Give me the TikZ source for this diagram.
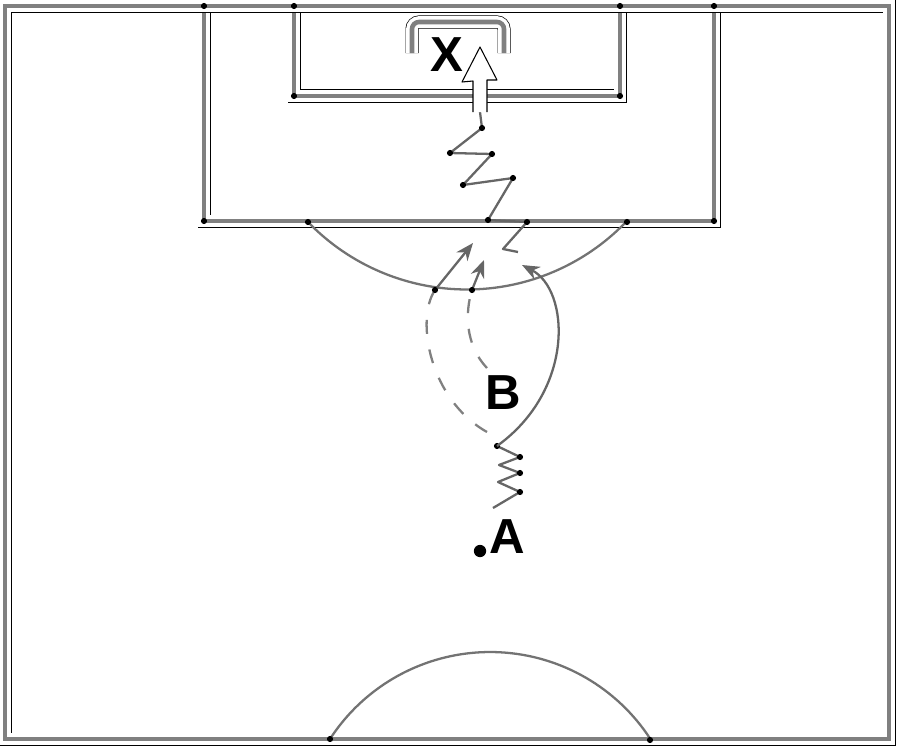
\documentclass[tikz,border=0pt]{standalone}
\usepackage{fontspec}
\setsansfont{Liberation Sans}
\usetikzlibrary{arrows.meta, positioning}

\tikzstyle{fieldline} = [draw=black!50, line width=2.6pt, preaction={draw=black, line width=7.4pt}, preaction={draw=white, line width=6.6pt}]
\tikzstyle{arcline} = [draw=black!55, line width=1.3pt]
\tikzstyle{dribble} = [draw=black!60, line width=1.3pt, line join=round]
\tikzstyle{pass} = [draw=black!50, line width=1.3pt, dash pattern=on 8pt off 9pt]
\tikzstyle{run} = [draw=black!60, line width=1.3pt, -{Stealth[length=10pt, width=8pt]}]
\tikzstyle{shot} = [draw=black, line width=0.6pt, fill=white, line join=round]
\tikzstyle{player} = [font=\sffamily\bfseries\fontsize{28}{30}\selectfont, inner sep=0pt]
\tikzstyle{ball} = [circle, fill=black, inner sep=0pt, minimum size=7pt]
\tikzstyle{joint} = [circle, fill=black, inner sep=0pt, minimum size=3.5pt]

\begin{document}
\begin{tikzpicture}[x=0.02cm, y=-0.02cm]
    \useasboundingbox (0,0) rectangle (900,747);

    % pitch
    \draw [fieldline, rounded corners=4] (412,53) -- (412,22) -- (504,22) -- (504,53);
    \draw [fieldline] (294,6) -- (294,96) -- (620,96) -- (620,6);
    \draw [fieldline] (204,6) -- (204,221) -- (714,221) -- (714,6);
    \draw [fieldline] (5,6) rectangle (889,739);
    \draw [arcline] (308,222) arc[start angle=136, end angle=44, radius=221];
    \draw [arcline] (330,739) arc[start angle=213, end angle=327, radius=191];
    \foreach \p in {(204,6),(294,6),(620,6),(714,6),(204,221),(714,221),(294,96),(620,96),(308,222),(627,222),(330,739),(650,740)}
        \node [joint] at \p {};

    % players
    \node (X) [player] at (447,55) {X};
    \node (B) [player] at (503,393) {B};
    \node (A) [player] at (507,537) {A};
    \node (ballA) [ball] at (480,551) {};

    % A dribbles, then runs round
    \coordinate (a0) at (493,508);
    \coordinate (a1) at (520,492);
    \coordinate (a2) at (498,482);
    \coordinate (a3) at (520,473);
    \coordinate (a4) at (499,465);
    \coordinate (a5) at (520,457);
    \coordinate (a6) at (497,446);
    \draw [dribble] (a0) -- (a1) -- (a2) -- (a3) -- (a4) -- (a5) -- (a6);
    \foreach \c in {a1,a3,a5,a6}
        \node [joint] at (\c) {};

    \coordinate (a7) at (522,265);
    \draw [run] (a6) .. controls (575,390) and (570,290) .. (a7);

    % passes
    \coordinate (p0) at (487,432);
    \coordinate (p1) at (435,290);
    \draw [pass] (p0) .. controls (430,400) and (415,320) .. (p1);
    \coordinate (b0) at (487,368);
    \coordinate (b1) at (472,290);
    \draw [pass] (b0) .. controls (465,345) and (465,312) .. (b1);

    % short runs on the arc
    \coordinate (p2) at (473,243);
    \draw [run] (p1) -- (p2);
    \coordinate (b2) at (484,260);
    \draw [run] (b1) -- (b2);
    \node [joint] at (p1) {};
    \node [joint] at (b1) {};

    % dribble to goal and shot
    \coordinate (z0) at (518,252);
    \coordinate (z1) at (503,249);
    \coordinate (z2) at (527,222);
    \coordinate (z3) at (488,220);
    \coordinate (z4) at (513,178);
    \coordinate (z5) at (463,185);
    \coordinate (z6) at (492,154);
    \coordinate (z7) at (450,153);
    \coordinate (z8) at (482,128);
    \coordinate (z9) at (480,112);
    \draw [dribble] (z0) -- (z1) -- (z2) -- (z3) -- (z4) -- (z5) -- (z6) -- (z7) -- (z8) -- (z9);
    \foreach \c in {z2,z3,z4,z5,z6,z7,z8}
        \node [joint] at (\c) {};

    \draw [shot] (473,112) -- (473,81) -- (462,82) -- (480,47) -- (497,80) -- (487,80) -- (487,112);
\end{tikzpicture}
\end{document}
